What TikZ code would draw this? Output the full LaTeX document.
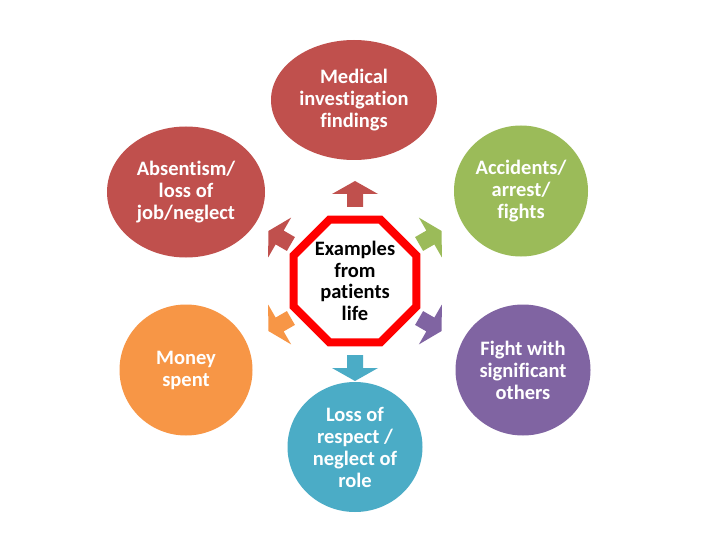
\documentclass[tikz,border=0pt]{standalone}
\usepackage{fontspec}
\setmainfont[Ligatures={NoCommon}]{Carlito}
\usetikzlibrary{shapes.geometric}
\definecolor{cred}{HTML}{C0504D}
\definecolor{cgreen}{HTML}{9BBB59}
\definecolor{cpurple}{HTML}{8064A2}
\definecolor{corange}{HTML}{F79646}
\definecolor{cblue}{HTML}{4BACC6}
\definecolor{octred}{HTML}{FF0000}
\tikzset{
  bubble/.style={ellipse, inner sep=0pt, text=white, align=center,
    font=\fontsize{20.5}{22}\selectfont\bfseries},
  octo/.style={regular polygon, regular polygon sides=8, minimum size=133pt,
    inner sep=0pt, draw=octred, line width=8pt, fill=white, align=center,
    font=\fontsize{20.5}{21.5}\selectfont\bfseries},
  blockarr/.pic={\fill[pic actions] (0,-8) -- (13,-8) -- (13,-23) -- (26,0) -- (13,23) -- (13,8) -- (0,8) -- cycle;}
}
\begin{document}
\begin{tikzpicture}[x=1pt,y=-1pt]
\useasboundingbox (0,0) rectangle (720,540);
\fill[white] (0,0) rectangle (720,540);
\node[bubble, fill=cred, minimum width=166pt, minimum height=120pt] (med) at (354,100) {Medical\\investigation\\findings};
\node[bubble, fill=cred, minimum width=158pt, minimum height=131pt] (abs) at (186,192) {Absentism/\\loss of\\job/neglect};
\node[bubble, fill=cgreen, minimum width=134pt, minimum height=131pt] (acc) at (521,191) {Accidents/\\arrest/\\fights};
\node[bubble, fill=corange, minimum width=133pt, minimum height=131pt] (mon) at (186,370) {Money\\spent};
\node[bubble, fill=cpurple, minimum width=135pt, minimum height=131pt] (fig) at (523,370) {Fight with\\significant\\others};
\node[bubble, fill=cblue, minimum width=135pt, minimum height=130pt] (los) at (355,447) {Loss of\\respect /\\neglect of\\role};
\node[octo, text=black] (ex) at (355,281) {Examples\\from\\patients\\life};
\pic[fill=cred, rotate=90] at (355,207) {blockarr};
\pic[fill=cred, rotate=150] at (290.9,244) {blockarr};
\pic[fill=cgreen, rotate=30] at (419.1,244) {blockarr};
\pic[fill=corange, rotate=210] at (290.9,318) {blockarr};
\pic[fill=cpurple, rotate=330] at (419.1,318) {blockarr};
\pic[fill=cblue, rotate=270] at (355,355) {blockarr};
\end{tikzpicture}
\end{document}
